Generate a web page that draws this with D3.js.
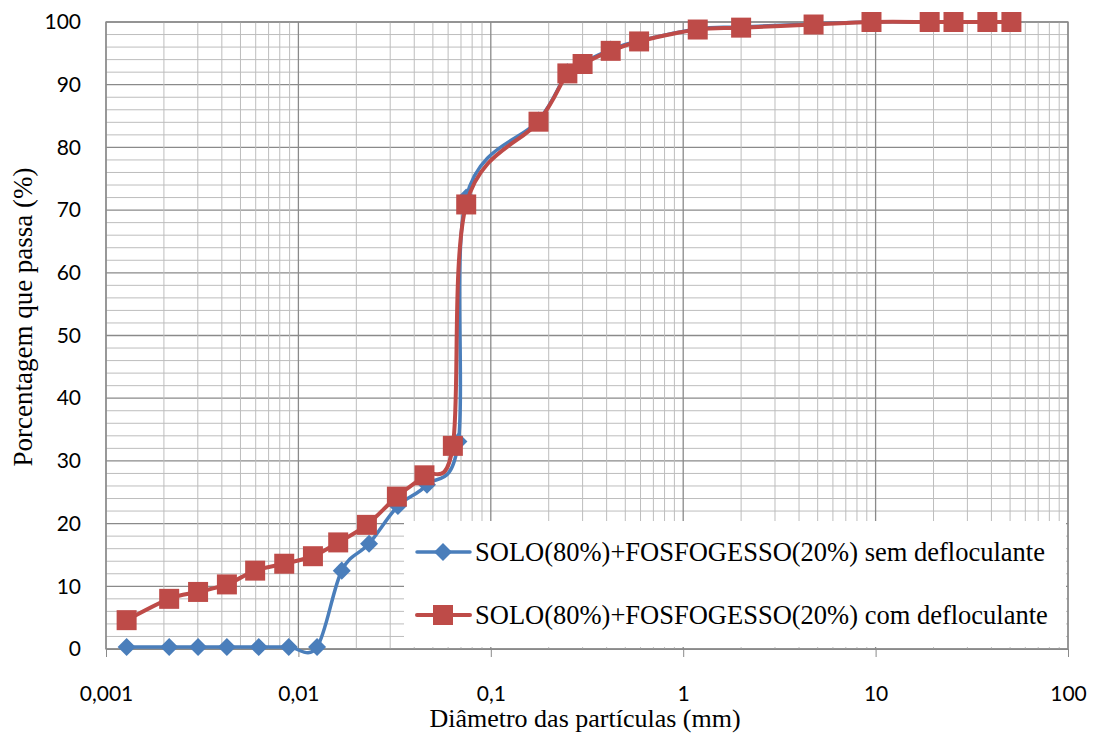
<!DOCTYPE html>
<html><head><meta charset="utf-8">
<script src="https://cdn.jsdelivr.net/npm/d3@7"></script>
<style>body{margin:0;background:#fff} .serif{font-family:"Liberation Serif","Times New Roman",serif}</style></head>
<body><svg id="c" width="1095" height="738"></svg>
<script>
const xTickValues = [0.001, 0.01, 0.1, 1, 10, 100];
const xTickLabels = ["0,001", "0,01", "0,1", "1", "10", "100"];
const yTickValues = [0, 10, 20, 30, 40, 50, 60, 70, 80, 90, 100];

const semDiam = [0.00128, 0.00213, 0.00301, 0.00425, 0.00622, 0.00891, 0.0125, 0.0168, 0.0233, 0.0329, 0.0466, 0.0679, 0.0745, 0.177, 0.25, 0.30, 0.42, 0.59, 1.19, 2.0, 4.76, 9.52, 19.1, 25.4, 38.1, 50.8];
const semPass = [0.3, 0.3, 0.3, 0.3, 0.3, 0.3, 0.3, 12.5, 16.8, 22.8, 26.2, 33.1, 72.0, 84.3, 92.0, 93.5, 95.6, 97.0, 98.9, 99.2, 99.7, 100, 100, 100, 100, 100];

const comDiam = [0.00128, 0.00213, 0.00301, 0.00425, 0.00596, 0.00844, 0.0119, 0.0161, 0.0227, 0.0325, 0.0452, 0.0635, 0.0745, 0.177, 0.25, 0.30, 0.42, 0.59, 1.19, 2.0, 4.76, 9.52, 19.1, 25.4, 38.1, 50.8];
const comPass = [4.6, 8.0, 9.1, 10.3, 12.5, 13.6, 14.8, 17.0, 19.8, 24.3, 27.7, 32.4, 70.9, 84.1, 91.8, 93.3, 95.4, 96.9, 98.8, 99.1, 99.6, 100, 100, 100, 100, 100];

const seriesNames = ["SOLO(80%)+FOSFOGESSO(20%) sem defloculante", "SOLO(80%)+FOSFOGESSO(20%) com defloculante"];
const xTitle = "Diâmetro das partículas (mm)";
const yTitle = "Porcentagem que passa (%)";

const svg = d3.select("#c");
const L = 106, R = 1068, T = 22, B = 649;
const x = d3.scaleLog().domain([0.001, 100]).range([L, R]);
const y = d3.scaleLinear().domain([0, 100]).range([B, T]);

const blue = "#4A7EBB", red = "#BE4B48";
const tickFont = "Lato, 'Open Sans', sans-serif";
const serifSize = 26;

// grid
const g = svg.append("g");
const isMajorX = v => Math.abs(Math.log10(v) - Math.round(Math.log10(v))) < 1e-9;
y.ticks(50).forEach(v => {
  const maj = v % 10 === 0;
  g.append("line").attr("x1", L).attr("x2", R).attr("y1", y(v)).attr("y2", y(v))
    .attr("stroke", maj ? "#8a8a8a" : "#bdbdbd").attr("stroke-width", maj ? 1.3 : 1);
});
x.ticks().forEach(v => {
  const maj = isMajorX(v);
  g.append("line").attr("x1", x(v)).attr("x2", x(v)).attr("y1", T).attr("y2", B)
    .attr("stroke", maj ? "#8a8a8a" : "#bdbdbd").attr("stroke-width", maj ? 1.3 : 1);
});
g.append("rect").attr("x", L).attr("y", T).attr("width", R - L).attr("height", B - T)
  .attr("fill", "none").attr("stroke", "#8a8a8a").attr("stroke-width", 1.3);

// axes
const xa = svg.append("g").attr("transform", `translate(0,${B})`)
  .call(d3.axisBottom(x).tickValues(xTickValues).tickFormat((d, i) => xTickLabels[i]).tickSize(8).tickPadding(29));
xa.select(".domain").attr("stroke", "#8a8a8a");
xa.selectAll("line").attr("stroke", "#8a8a8a");
xa.selectAll("text").attr("font-family", tickFont).attr("font-size", 21).attr("fill", "#000");

const ya = svg.append("g").attr("transform", `translate(${L},0)`)
  .call(d3.axisLeft(y).tickValues(yTickValues).tickSize(0).tickPadding(25));
ya.select(".domain").remove();
ya.selectAll("text").attr("font-family", tickFont).attr("font-size", 21).attr("fill", "#000");

// titles
svg.append("text").attr("class", "serif").attr("x", 585).attr("y", 727).attr("text-anchor", "middle")
  .attr("font-size", serifSize).text(xTitle);
svg.append("text").attr("class", "serif").attr("transform", "translate(32,317) rotate(-90)").attr("text-anchor", "middle")
  .attr("font-size", serifSize + 1).text(yTitle);

// legend background
svg.append("rect").attr("x", 404).attr("y", 521).attr("width", 662).attr("height", 126).attr("fill", "#fff");

// series
const line = d3.line().x(d => x(d[0])).y(d => y(d[1])).curve(d3.curveCardinal.tension(0));
const semData = semDiam.map((d, i) => [d, semPass[i]]);
const comData = comDiam.map((d, i) => [d, comPass[i]]);

const diamond = d3.symbol().type(d3.symbolSquare).size(162);
const square = d3.symbol().type(d3.symbolSquare).size(400);

svg.append("path").datum(semData).attr("d", line).attr("fill", "none").attr("stroke", blue).attr("stroke-width", 3.5);
svg.append("g").selectAll("path").data(semData).join("path")
  .attr("transform", d => `translate(${x(d[0])},${y(d[1])}) rotate(45)`).attr("d", diamond).attr("fill", blue);

svg.append("path").datum(comData).attr("d", line).attr("fill", "none").attr("stroke", red).attr("stroke-width", 4);
svg.append("g").selectAll("path").data(comData).join("path")
  .attr("transform", d => `translate(${x(d[0])},${y(d[1])})`).attr("d", square).attr("fill", red);

// legend
const leg = [{c: blue, s: diamond, r: 45, w: 3.5, y: 552}, {c: red, s: square, r: 0, w: 4, y: 615}];
leg.forEach((l, i) => {
  svg.append("line").attr("x1", 417).attr("x2", 470).attr("y1", l.y).attr("y2", l.y)
    .attr("stroke", l.c).attr("stroke-width", l.w).attr("stroke-linecap", "round");
  svg.append("path").attr("transform", `translate(443,${l.y}) rotate(${l.r})`).attr("d", l.s).attr("fill", l.c);
  svg.append("text").attr("class", "serif").attr("x", 475).attr("y", l.y).attr("dy", "0.33em")
    .attr("font-size", serifSize + 0.5).text(seriesNames[i]);
});
</script></body></html>
